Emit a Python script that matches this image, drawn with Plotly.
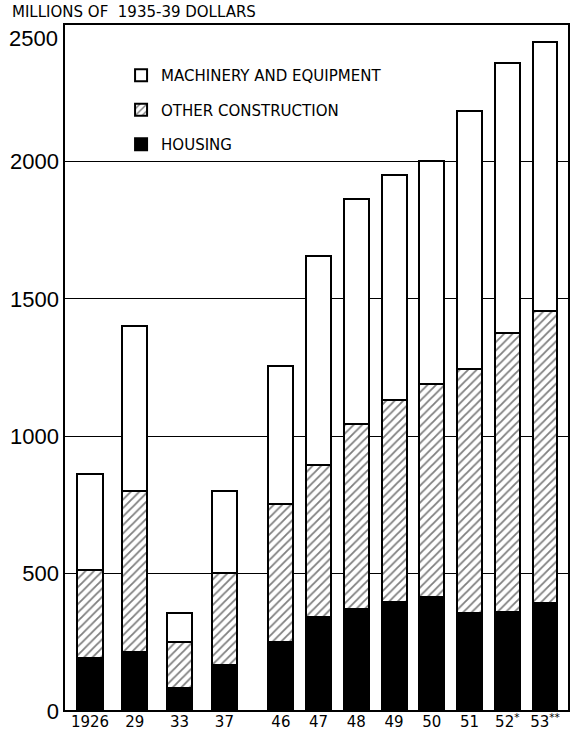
import plotly.graph_objects as go

# ---- data ----
years = ["1926", "29", "33", "37", "46", "47", "48", "49", "50", "51", "52<sup>*</sup>", "53<sup>**</sup>"]
housing = [193, 216, 84, 167, 250, 343, 370, 398, 416, 355, 361, 392]
other_construction = [320, 585, 168, 336, 503, 552, 673, 733, 773, 888, 1015, 1064]
machinery = [349, 599, 105, 298, 502, 760, 821, 818, 812, 942, 981, 978]
y_ticks = [0, 500, 1000, 1500, 2000, 2500]
y_tick_text = ["0", "500", "1000", "1500", "2000", ""]  # 2500 is set just below the top line

n_pre = 4  # pre-war years shown on the first axis

series = [
    ("HOUSING", housing, dict(color="black"), 3),
    ("OTHER CONSTRUCTION", other_construction,
     dict(color="white", pattern=dict(shape="/", fgcolor="black", bgcolor="white", size=6, solidity=0.3)), 2),
    ("MACHINERY AND EQUIPMENT", machinery, dict(color="white"), 1),
]

fig = go.Figure()
for part, (sl, xa, w) in enumerate([(slice(0, n_pre), "x", 0.56), (slice(n_pre, None), "x2", 0.66)]):
    for name, vals, mk, rank in series:
        marker = dict(mk)
        marker["line"] = dict(color="black", width=2)
        fig.add_trace(go.Bar(
            x=years[sl], y=vals[sl], name=name, xaxis=xa, yaxis="y",
            marker=marker, width=w, legendgroup=name, showlegend=(part == 1),
            legendrank=rank,
        ))

tickfont_x = dict(family="DejaVu Sans", size=15, color="black")
yfont = dict(family="Liberation Sans", size=22, color="black")
nb = "\u00a0"
fig.update_layout(
    width=572, height=736,
    margin=dict(l=64, r=3, t=24, b=25, autoexpand=False),
    paper_bgcolor="white", plot_bgcolor="white",
    barmode="stack",
    xaxis=dict(domain=[0, 0.376], type="category", categoryorder="array",
               categoryarray=years[:n_pre], range=[-0.58, 3.658],
               showgrid=False, ticks="", tickfont=tickfont_x, showline=False, zeroline=False),
    xaxis2=dict(domain=[0.376, 1], type="category", categoryorder="array",
                categoryarray=years[n_pre:], range=[-0.716, 7.636], anchor="y",
                showgrid=False, ticks="", tickfont=tickfont_x, showline=False, zeroline=False),
    yaxis=dict(range=[0, 2500], tickvals=y_ticks, ticktext=y_tick_text,
               showgrid=True, gridcolor="black", gridwidth=1,
               zeroline=False, showline=False, ticks="", ticklabelstandoff=4,
               tickfont=yfont),
    legend=dict(x=0.113, y=0.949, xanchor="left", yanchor="top",
                traceorder="grouped", tracegroupgap=12,
                font=dict(family="DejaVu Sans", size=15, color="black"),
                bgcolor="rgba(0,0,0,0)"),
    showlegend=True,
    annotations=[
        dict(text=f"MILLIONS{nb}OF{nb}{nb}1935-39{nb}DOLLARS", xref="paper", yref="paper",
             x=-0.107, y=1.018, xanchor="left", yanchor="middle", showarrow=False,
             font=dict(family="DejaVu Sans", size=15, color="black")),
        dict(text=str(y_ticks[-1]), xref="paper", yref="y", x=0, y=y_ticks[-1],
             xanchor="right", yanchor="top", xshift=-4, showarrow=False, font=yfont),
    ],
    shapes=[dict(type="rect", xref="paper", yref="paper", x0=0, y0=0, x1=1, y1=1,
                 line=dict(color="black", width=2), layer="above")],
)

fig.write_html("out.html", config={"displayModeBar": False},
               post_script="document.body.style.margin='0px';")
